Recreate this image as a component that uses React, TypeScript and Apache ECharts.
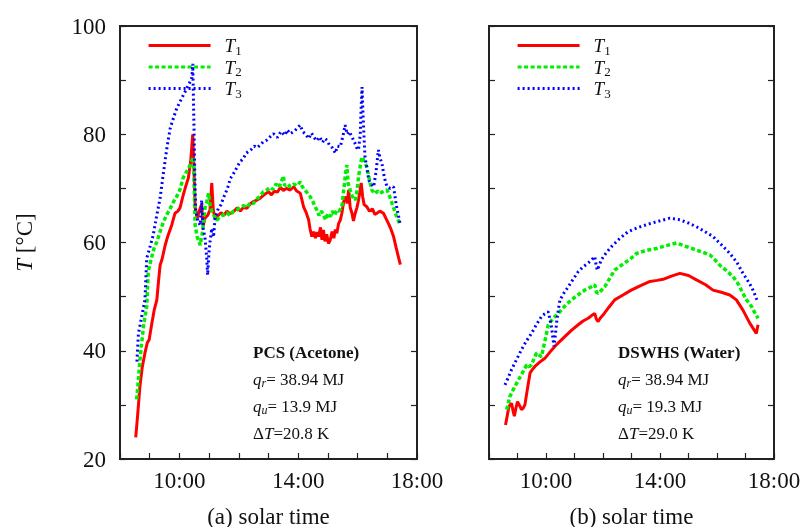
import React, { useEffect, useRef } from "react";
import * as echarts from "echarts";

// ---- Data (time in decimal hours, temperature in °C) ----
const pcsT1: number[][] = [
  [8.53, 24.0], [8.6, 28.5], [8.67, 33.4], [8.75, 37], [8.84, 39.6], [8.92, 41.5], [8.98, 42], [9.07, 45], [9.15, 47.5], [9.24, 49.4],
  [9.3, 53], [9.35, 55.8], [9.42, 57], [9.52, 59.5], [9.6, 61], [9.74, 63.2], [9.85, 65.4], [9.95, 65.8], [10.02, 66.4], [10.13, 68.8],
  [10.22, 70.5], [10.3, 71.9], [10.38, 75], [10.45, 80], [10.5, 72], [10.53, 66.4], [10.6, 64.5], [10.68, 66], [10.75, 67], [10.8, 63],
  [10.86, 64.5], [10.95, 65], [11.03, 66], [11.09, 71], [11.14, 66], [11.2, 64.5], [11.31, 65], [11.4, 65.5], [11.5, 65], [11.6, 65.8],
  [11.7, 65.3], [11.82, 65.7], [11.95, 66.4], [12.05, 65.8], [12.15, 66.5], [12.27, 66.3], [12.4, 67.2], [12.5, 67.6], [12.6, 67.8], [12.72, 68.2],
  [12.85, 68.8], [13.0, 69.4], [13.1, 68.8], [13.2, 69.5], [13.3, 69.3], [13.4, 70.2], [13.5, 69.6], [13.6, 70.0], [13.73, 69.7], [13.85, 70.3],
  [13.95, 69.5], [14.07, 69.1], [14.12, 68.0], [14.18, 66.6], [14.27, 65.5], [14.35, 64.2], [14.4, 62.5], [14.46, 61.1], [14.52, 62.0], [14.58, 60.8],
  [14.64, 61.9], [14.69, 61.1], [14.75, 62.8], [14.8, 60.5], [14.85, 62.3], [14.9, 60.2], [14.96, 61.5], [15.02, 59.8], [15.08, 60.5], [15.14, 62.0],
  [15.2, 60.8], [15.25, 62.4], [15.3, 61.7], [15.36, 63.5], [15.42, 64.2], [15.47, 65.4], [15.53, 67.5], [15.6, 68.5], [15.65, 67.2], [15.7, 69.7],
  [15.75, 66.5], [15.81, 65.4], [15.86, 64.0], [15.92, 65.4], [15.98, 66.5], [16.03, 67.8], [16.08, 69.5], [16.12, 71.0], [16.17, 68.5], [16.22, 67.0],
  [16.31, 66.6], [16.4, 65.8], [16.5, 66.2], [16.58, 65.2], [16.65, 65.4], [16.75, 65.8], [16.87, 65.4], [16.95, 64.5], [17.04, 63.5], [17.12, 62.5],
  [17.21, 61.1], [17.3, 59.0], [17.38, 57.2], [17.44, 55.9],
];
const pcsT2: number[][] = [
  [8.56, 31.0], [8.62, 34.6], [8.67, 38.3], [8.73, 41.4], [8.79, 44.5], [8.9, 48.2], [8.95, 54.6], [9.05, 57], [9.15, 59], [9.24, 60.1],
  [9.35, 62], [9.46, 63.8], [9.58, 65.2], [9.69, 66.3], [9.8, 67.5], [9.91, 68.5], [10.02, 69.8], [10.13, 72.0], [10.25, 73.2], [10.38, 74.5],
  [10.47, 75.8], [10.5, 70], [10.53, 63.2], [10.6, 61], [10.7, 59.5], [10.78, 62], [10.86, 66.3], [10.92, 67.5], [10.98, 69.1], [11.03, 67],
  [11.09, 65.7], [11.18, 64.8], [11.26, 64.1], [11.37, 64.8], [11.48, 65.1], [11.6, 65.5], [11.7, 65.0], [11.82, 65.8], [11.93, 66.0], [12.05, 66.5],
  [12.15, 66.8], [12.27, 66.5], [12.38, 67.3], [12.49, 67.2], [12.6, 68.0], [12.72, 68.6], [12.83, 69.4], [12.94, 69.7], [13.05, 70.2], [13.15, 69.8],
  [13.25, 70.8], [13.35, 70.2], [13.45, 71.5], [13.5, 72.3], [13.55, 70.5], [13.65, 70.8], [13.73, 70.3], [13.85, 70.8], [13.95, 70.5], [14.07, 71.2],
  [14.12, 70.5], [14.18, 70.0], [14.3, 69.2], [14.4, 68.5], [14.5, 67.5], [14.58, 66.5], [14.63, 66.0], [14.7, 65.0], [14.78, 65.8], [14.85, 65.1],
  [14.92, 64.2], [15.0, 65.3], [15.08, 64.8], [15.15, 65.8], [15.22, 65.0], [15.3, 66.0], [15.38, 65.8], [15.47, 66.6], [15.55, 70.5], [15.6, 73.0],
  [15.64, 74.3], [15.68, 71.0], [15.75, 69.7], [15.82, 68.5], [15.92, 67.8], [15.98, 69.5], [16.03, 72.1], [16.1, 74.5], [16.15, 75.8], [16.22, 75.0],
  [16.31, 74.0], [16.4, 71.5], [16.48, 69.7], [16.58, 69.0], [16.68, 69.5], [16.76, 69.1], [16.88, 69.5], [16.99, 69.7], [17.08, 68.5], [17.16, 67.2],
  [17.3, 65.0], [17.44, 63.2],
];
const pcsT3: number[][] = [
  [8.57, 38.0], [8.62, 43.2], [8.73, 46.3], [8.84, 49.4], [8.9, 57.1], [9.0, 59], [9.12, 61.4], [9.22, 64.5], [9.35, 68.2], [9.46, 72.8],
  [9.58, 77.5], [9.69, 81.1], [9.8, 83.0], [9.91, 84.8], [10.02, 86.0], [10.13, 87.2], [10.25, 88.5], [10.36, 89.7], [10.42, 90.5], [10.45, 93.0],
  [10.49, 81.7], [10.52, 72], [10.55, 66.0], [10.62, 64.0], [10.7, 63.2], [10.75, 67.8], [10.8, 62.5], [10.86, 61.0], [10.92, 57.1], [10.95, 54.0],
  [11.0, 58.5], [11.03, 60.1], [11.09, 62.6], [11.15, 61.0], [11.2, 64.5], [11.31, 66.3], [11.4, 67.0], [11.48, 68.2], [11.58, 69.5], [11.65, 70.5],
  [11.71, 71.8], [11.8, 72.5], [11.9, 73.5], [12.04, 74.9], [12.15, 75.5], [12.25, 76.5], [12.32, 76.8], [12.42, 77.2], [12.52, 77.8], [12.62, 77.5],
  [12.72, 78.0], [12.82, 78.6], [12.94, 78.9], [13.05, 79.5], [13.17, 80.1], [13.3, 79.4], [13.42, 80.5], [13.55, 79.8], [13.63, 80.8], [13.73, 80.1],
  [13.85, 80.5], [13.95, 81.0], [14.07, 81.7], [14.15, 80.5], [14.25, 80.0], [14.35, 79.2], [14.45, 80.2], [14.52, 79.5], [14.62, 78.8], [14.72, 79.5],
  [14.82, 78.5], [14.9, 79.2], [14.97, 78.9], [15.05, 78.0], [15.15, 77.5], [15.25, 76.5], [15.32, 77.8], [15.42, 77.7], [15.5, 79.5], [15.58, 81.7],
  [15.65, 80.0], [15.72, 80.5], [15.81, 79.5], [15.9, 78.5], [15.97, 77.5], [16.03, 77.1], [16.09, 80.0], [16.12, 85], [16.15, 88.7], [16.18, 84],
  [16.22, 79], [16.25, 75.8], [16.32, 73.5], [16.38, 71.5], [16.46, 70.8], [16.54, 70.3], [16.62, 73.0], [16.7, 77.1], [16.76, 75.5], [16.82, 74.6],
  [16.9, 72.0], [16.99, 70.3], [17.1, 70.0], [17.21, 70.3], [17.3, 67.0], [17.44, 63.2],
];
const dswhsT1: number[][] = [
  [8.58, 26.3], [8.64, 28.0], [8.7, 29.7], [8.79, 30.3], [8.84, 29.0], [8.89, 27.9], [8.95, 29.5], [9.0, 30.6], [9.07, 29.9], [9.14, 29.1],
  [9.2, 29.4], [9.26, 30.0], [9.35, 33.0], [9.44, 35.9], [9.52, 36.5], [9.61, 37.1], [9.78, 37.9], [9.96, 38.6], [10.13, 39.7], [10.31, 40.8],
  [10.48, 41.7], [10.66, 42.6], [10.9, 43.8], [11.13, 44.8], [11.3, 45.5], [11.48, 46.0], [11.6, 46.5], [11.71, 46.9], [11.77, 45.8], [11.83, 45.4],
  [11.9, 46.0], [12.0, 46.6], [12.2, 48.0], [12.41, 49.4], [12.7, 50.3], [12.99, 51.2], [13.3, 52.0], [13.65, 52.8], [13.9, 53.0], [14.11, 53.2],
  [14.4, 53.8], [14.7, 54.3], [15.0, 53.9], [15.28, 53.1], [15.6, 52.2], [15.86, 51.2], [16.15, 50.8], [16.45, 50.3], [16.68, 49.4], [16.91, 47.5],
  [17.15, 45.1], [17.38, 43.2], [17.44, 44.8],
];
const dswhsT2: number[][] = [
  [8.62, 29.1], [8.73, 31.5], [8.82, 32.5], [8.91, 33.4], [9.02, 34.5], [9.14, 35.6], [9.23, 36.5], [9.32, 37.4], [9.4, 37.0], [9.49, 37.4],
  [9.58, 38.5], [9.67, 39.6], [9.76, 39.2], [9.84, 38.9], [9.95, 41.5], [10.08, 44.8], [10.25, 46.0], [10.43, 46.9], [10.65, 48.2], [10.89, 49.4],
  [11.12, 50.3], [11.36, 51.2], [11.55, 51.7], [11.71, 52.2], [11.77, 50.8], [11.83, 50.6], [11.95, 51.2], [12.06, 51.8], [12.25, 53.5], [12.41, 54.9],
  [12.7, 56.0], [12.99, 57.1], [13.18, 58.0], [13.5, 58.5], [13.88, 58.9], [14.2, 59.4], [14.58, 59.9], [14.9, 59.3], [15.28, 58.6], [15.5, 58.2],
  [15.75, 57.7], [15.93, 56.8], [16.1, 55.8], [16.33, 54.8], [16.56, 53.7], [16.75, 52.3], [16.91, 50.6], [17.05, 49.3], [17.21, 48.2], [17.33, 47.0],
  [17.44, 46.0],
];
const dswhsT3: number[][] = [
  [8.56, 33.7], [8.68, 35.1], [8.79, 36.5], [8.96, 38.3], [9.14, 40.2], [9.3, 41.7], [9.49, 43.2], [9.66, 44.8], [9.84, 46.3], [9.95, 46.8],
  [10.08, 47.2], [10.14, 45.8], [10.19, 44.5], [10.28, 40.8], [10.33, 43.0], [10.37, 45.1], [10.43, 47.5], [10.49, 49.4], [10.62, 50.6], [10.78, 51.8],
  [10.95, 53.2], [11.13, 54.6], [11.3, 55.5], [11.48, 56.2], [11.6, 56.8], [11.71, 57.4], [11.76, 55.8], [11.8, 54.9], [11.87, 55.8], [11.94, 56.8],
  [12.1, 58.0], [12.29, 59.2], [12.58, 60.7], [12.88, 62.0], [13.25, 62.8], [13.65, 63.5], [14.0, 64.0], [14.35, 64.5], [14.7, 64.2], [15.0, 63.6],
  [15.28, 62.9], [15.58, 62.0], [15.86, 61.1], [16.15, 59.6], [16.45, 58.0], [16.7, 56.3], [16.91, 54.3], [17.06, 53.1], [17.21, 51.8], [17.32, 50.5],
  [17.42, 49.1],
];

const seriesNames = ["T1", "T2", "T3"];
const xTickLabels = [10, 14, 18];
const yTickLabels = [20, 40, 60, 80, 100];
const panelTitles = ["(a) solar time", "(b) solar time"];
const panelHeads = ["PCS (Acetone)", "DSWHS (Water)"];
const panelQr = ["38.94", "38.94"];
const panelQu = ["13.9", "19.3"];
const panelDT = ["20.8", "29.0"];

const FONT = "Liberation Serif";
const TXT = "#111";
const colors = ["#ff0000", "#00ee00", "#0000ff"];
const lineTypes: any[] = ["solid", [4, 2.5], [2, 3]];
const lineWidths = [3, 3.5, 3];

const grids = [
  { left: 120, top: 26, width: 297, height: 433 },
  { left: 489, top: 26, width: 285, height: 433 },
];

export default function App() {
  const ref = useRef<HTMLDivElement>(null);
  useEffect(() => {
    if (!ref.current) return;
    const chart = echarts.init(ref.current, undefined, { renderer: "svg" });
    const axisLine = { show: true, lineStyle: { color: "#222", width: 2 } };
    const axisTick = { show: true, inside: true, length: 6, lineStyle: { color: "#222", width: 1.2 } };

    const xAxes = grids.map((_, i) => ({
      type: "value",
      gridIndex: i,
      min: 8,
      max: 18,
      interval: 1,
      axisLine,
      axisTick,
      splitLine: { show: false },
      axisLabel: {
        margin: 10,
        fontFamily: FONT,
        fontSize: 23,
        color: TXT,
        formatter: (v: number) => (xTickLabels.includes(v) ? `${v}:00` : ""),
      },
      name: panelTitles[i],
      nameLocation: "middle",
      nameGap: 46,
      nameTextStyle: { fontFamily: FONT, fontSize: 23, color: TXT },
    }));

    const yAxes: any[] = [];
    grids.forEach((_, i) => {
      yAxes.push({
        type: "value",
        gridIndex: i,
        position: "left",
        min: 20,
        max: 100,
        interval: 10,
        axisLine,
        axisTick,
        splitLine: { show: false },
        axisLabel: {
          show: i === 0,
          margin: 14,
          fontFamily: FONT,
          fontSize: 23,
          color: TXT,
          formatter: (v: number) => (yTickLabels.includes(v) ? `${v}` : ""),
        },
        name: i === 0 ? "{it|T} [°C]" : "",
        nameLocation: "middle",
        nameRotate: 90,
        nameGap: 84,
        nameTextStyle: {
          fontFamily: FONT,
          fontSize: 23,
          color: TXT,
          rich: {
            it: { fontFamily: FONT, fontSize: 23, fontStyle: "italic", color: TXT },
          },
        },
      });
      yAxes.push({
        type: "value",
        gridIndex: i,
        position: "right",
        min: 20,
        max: 100,
        interval: 10,
        axisLine,
        axisTick,
        splitLine: { show: false },
        axisLabel: { show: false },
      });
    });

    const datasets = [
      [pcsT1, pcsT2, pcsT3],
      [dswhsT1, dswhsT2, dswhsT3],
    ];
    const series: any[] = [];
    datasets.forEach((set, p) => {
      set.forEach((d, k) => {
        series.push({
          type: "line",
          name: seriesNames[k],
          xAxisIndex: p,
          yAxisIndex: p * 2,
          data: d,
          symbol: "none",
          showSymbol: false,
          clip: true,
          lineStyle: { color: colors[k], width: lineWidths[k], type: lineTypes[k] },
          itemStyle: { color: colors[k] },
          z: 2 + k,
        });
      });
    });

    const legendRich = {
      it: { fontFamily: FONT, fontSize: 19, fontStyle: "italic", color: TXT, padding: [0, 0, 0, 9], lineHeight: 22 },
      sub: { fontFamily: FONT, fontSize: 13, color: TXT, verticalAlign: "bottom", lineHeight: 13 },
    };
    const legends = grids.map((g) => ({
      data: seriesNames,
      orient: "vertical",
      left: g.left + 22,
      top: 31,
      itemWidth: 62,
      itemHeight: 14,
      itemGap: 1,
      selectedMode: false,
      itemStyle: { color: "transparent", borderWidth: 0, opacity: 0 },
      lineStyle: { width: 3.2 },
      formatter: (n: string) => `{it|T}{sub|${n.slice(1)}}`,
      textStyle: { fontFamily: FONT, rich: legendRich },
    }));

    const annRich = {
      n: { fontFamily: FONT, fontSize: 17, color: TXT },
      q: { fontFamily: FONT, fontSize: 17, fontStyle: "italic", lineHeight: 20, color: TXT },
      s: { fontFamily: FONT, fontSize: 12, fontStyle: "italic", verticalAlign: "bottom", lineHeight: 12, color: TXT },
    };
    const annX = [253, 618];
    const annY = [352, 379, 406, 433];
    const graphic: any[] = [];
    [0, 1].forEach((p) => {
      graphic.push({
        type: "text",
        x: annX[p],
        y: annY[0],
        z: 10,
        style: { text: panelHeads[p], fontFamily: FONT, fontSize: 17, fontWeight: "bold", fill: TXT, verticalAlign: "middle" },
      });
      const lines = [
        `{q|q}{s|r}{n|= ${panelQr[p]} MJ}`,
        `{q|q}{s|u}{n|= ${panelQu[p]} MJ}`,
        `{n|Δ}{q|T}{n|=${panelDT[p]} K}`,
      ];
      lines.forEach((t, j) => {
        graphic.push({
          type: "text",
          x: annX[p],
          y: annY[j + 1],
          z: 10,
          style: { text: t, rich: annRich, fill: TXT, align: "left", verticalAlign: "middle" },
        });
      });
    });

    chart.setOption({
      animation: false,
      grid: grids.map((g) => ({
        ...g,
        show: true,
        containLabel: false,
        outerBoundsMode: "none",
        borderColor: "#222",
        borderWidth: 2,
        backgroundColor: "transparent",
      })),
      xAxis: xAxes,
      yAxis: yAxes,
      legend: legends,
      series,
      graphic,
    } as any);
    return () => chart.dispose();
  }, []);
  return <div ref={ref} style={{ position: "fixed", left: 0, top: 0, width: 805, height: 527 }} />;
}
